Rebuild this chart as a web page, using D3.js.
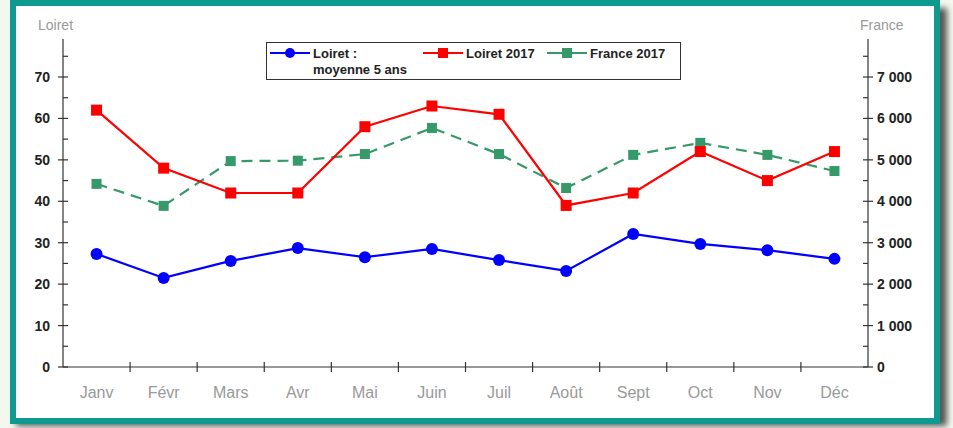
<!DOCTYPE html>
<html>
<head>
<meta charset="utf-8">
<script src="https://cdn.jsdelivr.net/npm/d3@7"></script>
<style>
body{margin:0;background:#f3f8ef;}
svg{display:block;font-family:"Liberation Sans",Arial,sans-serif;}
</style>
</head>
<body>
<svg id="canvas" width="953" height="428"></svg>
<script>
let months=['Janv','Févr','Mars','Avr','Mai','Juin','Juil','Août','Sept','Oct','Nov','Déc'];
let loiret5=[27.3,21.5,25.6,28.7,26.5,28.5,25.8,23.2,32.1,29.7,28.2,26.1];
let loiret2017=[62,48,42,42,58,63,61,39,42,52,45,52];
let france2017=[4420,3890,4970,4980,5140,5770,5140,4320,5120,5410,5120,4730];
let leftTicks=[0,10,20,30,40,50,60,70];
let rightTicks=[0,1000,2000,3000,4000,5000,6000,7000];

let svg=d3.select('#canvas');

// frame + shadow
let defs=svg.append('defs');
defs.append('filter').attr('id','blur').append('feGaussianBlur').attr('stdDeviation',3);
svg.append('rect').attr('x',16).attr('y',8).attr('width',931).attr('height',418)
    .attr('fill','#555').attr('filter','url(#blur)');
svg.append('rect').attr('x',13).attr('y',3).attr('width',924).attr('height',418)
    .attr('fill','#fff').attr('stroke','#0e9a8f').attr('stroke-width',6);

let pLeft=63,pRight=868,pTop=39,pBottom=367;

let x=d3.scaleBand().domain(months).range([pLeft,pRight]);
let yL=d3.scaleLinear().domain([0,70]).range([pBottom,77]);
let yR=d3.scaleLinear().domain([0,7000]).range([pBottom,77]);

// x axis
svg.append('line').attr('x1',pLeft).attr('x2',pRight).attr('y1',pBottom).attr('y2',pBottom)
    .attr('stroke','#333').attr('stroke-width',1.2);
svg.selectAll('.xt').data(months.slice(1)).enter().append('line')
    .attr('x1',d=>x(d)).attr('x2',d=>x(d)).attr('y1',pBottom-5).attr('y2',pBottom+5)
    .attr('stroke','#333').attr('stroke-width',1.2);
svg.selectAll('.xl').data(months).enter().append('text')
    .attr('x',d=>x(d)+x.bandwidth()/2).attr('y',398)
    .attr('text-anchor','middle').attr('font-size',16).attr('fill','#999')
    .text(d=>d);

// left axis
svg.append('line').attr('x1',pLeft).attr('x2',pLeft).attr('y1',pTop).attr('y2',pBottom)
    .attr('stroke','#333').attr('stroke-width',1.2);
let minorL=d3.range(5,80,10);
svg.selectAll('.lm').data(minorL).enter().append('line')
    .attr('x1',pLeft).attr('x2',pLeft+5).attr('y1',d=>yL(d)).attr('y2',d=>yL(d))
    .attr('stroke','#333').attr('stroke-width',1.2);
svg.selectAll('.lt').data(leftTicks).enter().append('line')
    .attr('x1',pLeft-5).attr('x2',pLeft+5).attr('y1',d=>yL(d)).attr('y2',d=>yL(d))
    .attr('stroke','#333').attr('stroke-width',1.2);
svg.selectAll('.ll').data(leftTicks).enter().append('text')
    .attr('x',50).attr('y',d=>yL(d)+5).attr('text-anchor','end')
    .attr('font-size',14).attr('font-weight','bold').attr('fill','#222')
    .text(d=>d);
svg.append('text').attr('x',38).attr('y',30).attr('font-size',14).attr('fill','#999').text('Loiret');

// right axis
let fmt=d=>d3.format(',')(d).replace(',',' ');
svg.append('line').attr('x1',pRight).attr('x2',pRight).attr('y1',pTop).attr('y2',pBottom)
    .attr('stroke','#333').attr('stroke-width',1.2);
let minorR=d3.range(500,8000,1000);
svg.selectAll('.rm').data(minorR).enter().append('line')
    .attr('x1',pRight-5).attr('x2',pRight).attr('y1',d=>yR(d)).attr('y2',d=>yR(d))
    .attr('stroke','#333').attr('stroke-width',1.2);
svg.selectAll('.rt').data(rightTicks).enter().append('line')
    .attr('x1',pRight-5).attr('x2',pRight+5).attr('y1',d=>yR(d)).attr('y2',d=>yR(d))
    .attr('stroke','#333').attr('stroke-width',1.2);
svg.selectAll('.rl').data(rightTicks).enter().append('text')
    .attr('x',877).attr('y',d=>yR(d)+5)
    .attr('font-size',14).attr('font-weight','bold').attr('fill','#222')
    .text(d=>fmt(d));
svg.append('text').attr('x',860).attr('y',30).attr('font-size',14).attr('fill','#999').text('France');

let cx=(d,i)=>x(months[i])+x.bandwidth()/2;

// series
let lineL=d3.line().x(cx).y(d=>yL(d));
let lineR=d3.line().x(cx).y(d=>yR(d));

svg.append('path').attr('d',lineR(france2017)).attr('fill','none')
    .attr('stroke','#35996a').attr('stroke-width',2.2).attr('stroke-dasharray','11,7');
svg.append('path').attr('d',lineL(loiret5)).attr('fill','none')
    .attr('stroke','#0000ff').attr('stroke-width',2.2);
svg.append('path').attr('d',lineL(loiret2017)).attr('fill','none')
    .attr('stroke','#ff0000').attr('stroke-width',2.2);

svg.selectAll('.gm').data(france2017).enter().append('rect')
    .attr('x',(d,i)=>cx(d,i)-5).attr('y',d=>yR(d)-5).attr('width',10).attr('height',10)
    .attr('fill','#35996a');
svg.selectAll('.rmk').data(loiret2017).enter().append('rect')
    .attr('x',(d,i)=>cx(d,i)-5.5).attr('y',d=>yL(d)-5.5).attr('width',11).attr('height',11)
    .attr('fill','#ff0000');
svg.selectAll('.bm').data(loiret5).enter().append('circle')
    .attr('cx',cx).attr('cy',d=>yL(d)).attr('r',6)
    .attr('fill','#0000ff');

// legend
let lg=svg.append('g');
lg.append('rect').attr('x',266.5).attr('y',42.5).attr('width',414).attr('height',37)
    .attr('fill','#fff').attr('stroke','#333').attr('stroke-width',1);
let items=[
    {x:270,color:'#0000ff',shape:'circle',label:['Loiret :','moyenne 5 ans']},
    {x:423,color:'#ff0000',shape:'rect',label:['Loiret 2017']},
    {x:547,color:'#35996a',shape:'rect',label:['France 2017']}
];
items.forEach(it=>{
    lg.append('line').attr('x1',it.x).attr('x2',it.x+40).attr('y1',53).attr('y2',53)
        .attr('stroke',it.color).attr('stroke-width',2.2);
    if(it.shape==='circle'){
        lg.append('circle').attr('cx',it.x+20).attr('cy',53).attr('r',5).attr('fill',it.color);
    } else {
        lg.append('rect').attr('x',it.x+15).attr('y',48).attr('width',10).attr('height',10).attr('fill',it.color);
    }
    it.label.forEach((t,j)=>{
        lg.append('text').attr('x',it.x+43).attr('y',58+j*16)
            .attr('font-size',13).attr('font-weight','bold').attr('fill','#222').text(t);
    });
});
</script>
</body>
</html>
